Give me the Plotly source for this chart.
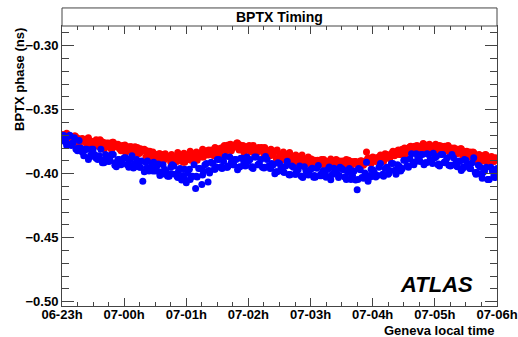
import pandas as pd
import plotly.graph_objects as go

# sample times (Geneva local time): interleaved sample sets
start_time_a = "2010-07-06 23:00:00"
start_time_b = "2010-07-06 23:01:30"
start_time_red_c = "2010-07-06 23:00:45"
start_time_red_d = "2010-07-06 23:03:45"
start_time_blue_c = "2010-07-06 23:03:45"
sample_minutes = 3
sparse_minutes = 6

red_phase_a = [
    -0.3695, -0.3735, -0.371, -0.3735, -0.3705, -0.376, -0.3745, -0.373, -0.3785, -0.375,
    -0.3775, -0.3735, -0.379, -0.3765, -0.379, -0.376, -0.3815, -0.379, -0.377, -0.382,
    -0.3795, -0.382, -0.379, -0.3845, -0.381, -0.384, -0.382, -0.387, -0.3845, -0.3875,
    -0.385, -0.390, -0.387, -0.389, -0.3865, -0.391, -0.388, -0.3905, -0.3865, -0.391,
    -0.3875, -0.389, -0.385, -0.388, -0.3845, -0.387, -0.383, -0.3855, -0.383, -0.386,
    -0.381, -0.383, -0.379, -0.382, -0.3775, -0.380, -0.377, -0.3815, -0.379, -0.382,
    -0.379, -0.383, -0.3805, -0.383, -0.380, -0.385, -0.383, -0.386, -0.384, -0.3885,
    -0.386, -0.389, -0.386, -0.3905, -0.388, -0.3905, -0.388, -0.3925, -0.390, -0.392,
    -0.3895, -0.3935, -0.3905, -0.3925, -0.3895, -0.3935, -0.3905, -0.3925, -0.3895, -0.3935,
    -0.3905, -0.393, -0.390, -0.394, -0.391, -0.393, -0.390, -0.3935, -0.383, -0.391,
    -0.387, -0.3905, -0.387, -0.388, -0.3845, -0.388, -0.3845, -0.386, -0.382, -0.385,
    -0.381, -0.383, -0.379, -0.383, -0.3795, -0.3815, -0.3775, -0.382, -0.379, -0.381,
    -0.3785, -0.383, -0.380, -0.3825, -0.380, -0.3845, -0.382, -0.3845, -0.382, -0.3865,
    -0.384, -0.3865, -0.384, -0.389, -0.3865, -0.389, -0.3865, -0.391, -0.3875, -0.3905,
    -0.389,
]

red_phase_b = [
    -0.372, -0.3685, -0.3745, -0.3725, -0.3715, -0.377, -0.3725, -0.3755, -0.372, -0.378,
    -0.376, -0.378, -0.3745, -0.381, -0.377, -0.380, -0.3755, -0.379, -0.3805, -0.378,
    -0.3835, -0.3795, -0.3815, -0.379, -0.3845, -0.3825, -0.381, -0.3865, -0.389, -0.3855,
    -0.388, -0.3845, -0.3905, -0.388, -0.387, -0.392, -0.387, -0.3895, -0.3855, -0.391,
    -0.388, -0.3895, -0.3845, -0.3895, -0.3845, -0.387, -0.382, -0.3845, -0.3855, -0.382,
    -0.386, -0.3805, -0.3815, -0.3775, -0.382, -0.3785, -0.376, -0.381, -0.383, -0.3795,
    -0.382, -0.378, -0.384, -0.382, -0.3805, -0.386, -0.382, -0.3855, -0.3825, -0.3885,
    -0.3865, -0.389, -0.3855, -0.392, -0.388, -0.3915, -0.387, -0.3905, -0.392, -0.389,
    -0.3945, -0.390, -0.392, -0.389, -0.394, -0.391, -0.3885, -0.393, -0.3945, -0.3905,
    -0.3925, -0.389, -0.3945, -0.392, -0.3905, -0.395, -0.390, -0.392, -0.3875, -0.392,
    -0.3885, -0.390, -0.3855, -0.3905, -0.3855, -0.388, -0.3825, -0.385, -0.385, -0.381,
    -0.385, -0.380, -0.3815, -0.3785, -0.383, -0.380, -0.377, -0.3815, -0.383, -0.379,
    -0.3815, -0.378, -0.3835, -0.3815, -0.3805, -0.3855, -0.381, -0.384, -0.3805, -0.3865,
    -0.3845, -0.387, -0.3835, -0.3905, -0.3865, -0.390, -0.3855, -0.389, -0.390, -0.3875,
]

red_phase_c = [
    -0.3695, -0.371, -0.3705, -0.373, -0.3725, -0.375, -0.3735, -0.376, -0.3755, -0.378,
    -0.3775, -0.379, -0.3795, -0.382, -0.3825, -0.385, -0.385, -0.3865, -0.387, -0.3875,
    -0.3865, -0.386, -0.3845, -0.384, -0.3815, -0.3805, -0.378, -0.377, -0.376, -0.378,
    -0.378, -0.380, -0.3795, -0.382, -0.3825, -0.385, -0.385, -0.387, -0.3875, -0.389,
    -0.3885, -0.3895, -0.389, -0.390, -0.389, -0.390, -0.3895, -0.3905, -0.390, -0.389,
    -0.3875, -0.387, -0.385, -0.384, -0.3815, -0.380, -0.3785, -0.378, -0.3765, -0.377,
    -0.377, -0.3785, -0.378, -0.380, -0.3805, -0.3825, -0.383, -0.385, -0.385, -0.3865,
]

red_phase_d = [
    -0.370, -0.3715, -0.3725, -0.374, -0.3745, -0.376, -0.3755, -0.377, -0.377, -0.3785,
    -0.379, -0.380, -0.3805, -0.382, -0.383, -0.3845, -0.3845, -0.385, -0.3835, -0.384,
    -0.3825, -0.383, -0.381, -0.3815, -0.3795, -0.380, -0.378, -0.3785, -0.3775, -0.379,
    -0.3785, -0.3795, -0.3795, -0.381, -0.3815, -0.383, -0.3835, -0.3855, -0.3855, -0.387,
    -0.3895, -0.391, -0.3905, -0.3915, -0.390, -0.3915, -0.3905, -0.3915, -0.3905, -0.389,
    -0.3875, -0.386, -0.3855, -0.384, -0.3835, -0.3815, -0.3805, -0.379, -0.3795, -0.3785,
    -0.379, -0.3785, -0.380, -0.381, -0.3825, -0.383, -0.3855, -0.386, -0.3875, -0.388,
]

blue_phase_a = [
    -0.371, -0.375, -0.371, -0.378, -0.372, -0.382, -0.380, -0.386, -0.381, -0.387,
    -0.381, -0.388, -0.386, -0.3915, -0.385, -0.3905, -0.385, -0.3935, -0.389, -0.393,
    -0.3875, -0.393, -0.389, -0.3955, -0.389, -0.395, -0.406, -0.391, -0.398, -0.392,
    -0.398, -0.3925, -0.400, -0.3965, -0.402, -0.395, -0.394, -0.402, -0.396, -0.4015,
    -0.407, -0.3965, -0.402, -0.4115, -0.396, -0.4085, -0.393, -0.4065, -0.391, -0.3965,
    -0.389, -0.395, -0.3905, -0.395, -0.387, -0.393, -0.389, -0.395, -0.388, -0.394,
    -0.390, -0.395, -0.387, -0.393, -0.389, -0.3955, -0.389, -0.396, -0.393, -0.3985,
    -0.392, -0.398, -0.394, -0.4007, -0.394, -0.4005, -0.397, -0.402, -0.3945, -0.4005,
    -0.3967, -0.4027, -0.3957, -0.4017, -0.3977, -0.4027, -0.3947, -0.4007, -0.3967, -0.403,
    -0.396, -0.4025, -0.399, -0.4045, -0.398, -0.4125, -0.397, -0.4035, -0.391, -0.4015,
    -0.397, -0.4025, -0.395, -0.401, -0.396, -0.4005, -0.392, -0.3975, -0.393, -0.398,
    -0.3895, -0.394, -0.3885, -0.392, -0.3845, -0.389, -0.385, -0.3915, -0.385, -0.391,
    -0.3875, -0.393, -0.385, -0.391, -0.3875, -0.394, -0.3875, -0.394, -0.3905, -0.396,
    -0.3895, -0.395, -0.3915, -0.399, -0.3935, -0.401, -0.398, -0.4045, -0.395, -0.4015,
    -0.396,
]

blue_phase_b = [
    -0.370, -0.378, -0.370, -0.376, -0.381, -0.374, -0.383, -0.381, -0.389, -0.381,
    -0.385, -0.389, -0.381, -0.3915, -0.386, -0.3895, -0.385, -0.3945, -0.389, -0.392,
    -0.3875, -0.395, -0.386, -0.3945, -0.392, -0.390, -0.3985, -0.390, -0.395, -0.391,
    -0.394, -0.4015, -0.393, -0.3985, -0.402, -0.393, -0.4005, -0.398, -0.405, -0.3965,
    -0.3995, -0.4025, -0.393, -0.4025, -0.396, -0.398, -0.392, -0.3995, -0.392, -0.3945,
    -0.389, -0.396, -0.3865, -0.394, -0.391, -0.389, -0.397, -0.388, -0.392, -0.387,
    -0.389, -0.396, -0.387, -0.392, -0.395, -0.3865, -0.394, -0.392, -0.400, -0.3915,
    -0.395, -0.399, -0.3903, -0.4007, -0.395, -0.3985, -0.394, -0.403, -0.3975, -0.4005,
    -0.3957, -0.4027, -0.3937, -0.4017, -0.3987, -0.3967, -0.4047, -0.3957, -0.3997, -0.395,
    -0.397, -0.4045, -0.396, -0.4015, -0.405, -0.396, -0.403, -0.3995, -0.406, -0.3965,
    -0.399, -0.4015, -0.392, -0.402, -0.395, -0.3975, -0.392, -0.4005, -0.394, -0.396,
    -0.3895, -0.395, -0.3845, -0.391, -0.3875, -0.385, -0.393, -0.3845, -0.389, -0.384,
    -0.3865, -0.394, -0.385, -0.390, -0.3935, -0.385, -0.3925, -0.390, -0.3975, -0.389,
    -0.3925, -0.396, -0.3875, -0.399, -0.3945, -0.399, -0.395, -0.4045, -0.398, -0.4005,
]

blue_phase_c = [
    -0.375, -0.3765, -0.380, -0.3815, -0.3855, -0.3865, -0.3895, -0.390, -0.3915, -0.391,
    -0.3925, -0.3925, -0.395, -0.3955, -0.398, -0.3985, -0.4005, -0.400, -0.403, -0.4035,
    -0.4045, -0.402, -0.401, -0.3975, -0.3965, -0.3945, -0.395, -0.393, -0.3945, -0.393,
    -0.3945, -0.393, -0.395, -0.3955, -0.3985, -0.3985, -0.401, -0.4005, -0.402, -0.401,
    -0.4015, -0.4005, -0.402, -0.400, -0.4015, -0.4025, -0.403, -0.4045, -0.403, -0.4025,
    -0.4015, -0.4005, -0.3995, -0.3975, -0.3965, -0.394, -0.393, -0.3905, -0.3915, -0.392,
    -0.3925, -0.3915, -0.3935, -0.3945, -0.3945, -0.396, -0.4005, -0.4035, -0.4045, -0.403,
]

y_tick_values = [-0.50, -0.45, -0.40, -0.35, -0.30]
x_range = ["2010-07-06 23:00", "2010-07-07 06:00"]
title_text = "BPTX Timing"
y_title = "BPTX phase (ns)"
x_title = "Geneva local time"
label_text = "ATLAS"

times_a = pd.date_range(start_time_a, periods=len(red_phase_a), freq=f"{sample_minutes}min")
times_b = pd.date_range(start_time_b, periods=len(red_phase_b), freq=f"{sample_minutes}min")
times_rc = pd.date_range(start_time_red_c, periods=len(red_phase_c), freq=f"{sparse_minutes}min")
times_rd = pd.date_range(start_time_red_d, periods=len(red_phase_d), freq=f"{sparse_minutes}min")
times_bc = pd.date_range(start_time_blue_c, periods=len(blue_phase_c), freq=f"{sparse_minutes}min")

FONT = "Liberation Sans, Arial, sans-serif"
AXC = "#444444"
RED = "#ff0000"
BLUE = "#0000ff"
MSIZE = 7

fig = go.Figure()
for t, v, c in [(times_a, red_phase_a, RED), (times_b, red_phase_b, RED),
                (times_rc, red_phase_c, RED), (times_rd, red_phase_d, RED),
                (times_a, blue_phase_a, BLUE), (times_b, blue_phase_b, BLUE),
                (times_bc, blue_phase_c, BLUE)]:
    fig.add_trace(go.Scatter(x=t, y=v, mode="markers",
                             marker=dict(color=c, size=MSIZE, line=dict(width=0)),
                             showlegend=False, hoverinfo="skip"))

fig.update_layout(
    width=518, height=337,
    margin=dict(l=62, r=21, t=26, b=31, autoexpand=False),
    paper_bgcolor="white", plot_bgcolor="white",
    font=dict(family=FONT, size=13, color="black"),
    showlegend=False,
)

fig.update_xaxes(
    range=x_range, automargin=False,
    tickformat="%d-%Hh", dtick=3600000,
    tickfont=dict(family=FONT, size=13, color="black", weight="bold"),
    ticklabelstandoff=-4,
    showgrid=False, zeroline=False,
    showline=True, linecolor=AXC, linewidth=1, mirror="ticks",
    ticks="inside", ticklen=8, tickcolor=AXC, tickwidth=1,
    minor=dict(dtick=900000, ticks="inside", ticklen=4, tickcolor=AXC, tickwidth=1, showgrid=False),
)
fig.update_yaxes(
    range=[-0.5034, -0.2846], automargin=False,
    tickvals=y_tick_values, tickformat=".2f",
    tickfont=dict(family=FONT, size=13, color="black", weight="bold"),
    showgrid=False, zeroline=False,
    showline=True, linecolor=AXC, linewidth=1, mirror="ticks",
    ticks="inside", ticklen=12, tickcolor=AXC, tickwidth=1,
    minor=dict(dtick=0.01, tick0=-0.5, ticks="inside", ticklen=7, tickcolor=AXC, tickwidth=1, showgrid=False),
)

# title box above the frame
fig.add_shape(type="rect", xref="paper", yref="paper", x0=0, x1=1, y0=1, y1=1.0644,
              line=dict(color=AXC, width=1), fillcolor="white")
fig.add_annotation(text=f"<b>{title_text}</b>", xref="paper", yref="paper", x=0.5, y=1.032,
                   xanchor="center", yanchor="middle", showarrow=False,
                   font=dict(family=FONT, size=14, color="black"))
fig.add_annotation(text=f"<b>{y_title}</b>", xref="paper", yref="paper", x=-0.0977, y=1.0,
                   xanchor="center", yanchor="top", textangle=-90, showarrow=False,
                   font=dict(family=FONT, size=13, color="black"))
fig.add_annotation(text=f"<b>{x_title}</b>", xref="paper", yref="paper", x=1.0, y=-0.0869,
                   xanchor="right", yanchor="middle", showarrow=False,
                   font=dict(family=FONT, size=13, color="black"))
fig.add_annotation(text=f"<b><i>{label_text}</i></b>", xref="paper", yref="paper", x=0.8598, y=0.0758,
                   xanchor="center", yanchor="middle", showarrow=False,
                   font=dict(family=FONT, size=22, color="black"))

fig.write_html("out.html")
